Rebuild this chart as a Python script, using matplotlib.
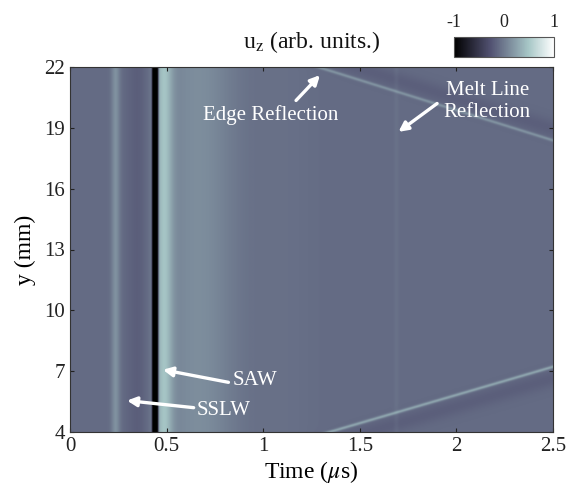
import numpy as np
import matplotlib
matplotlib.use("Agg")
import matplotlib.pyplot as plt

plt.rcParams["font.family"] = ["Liberation Serif", "DejaVu Serif"]
plt.rcParams["mathtext.fontset"] = "stix"
plt.rcParams["axes.unicode_minus"] = False

# ---- data -----------------------------------------------------------------
time_range = [0.0, 2.5]          # µs
y_range = [4.0, 22.0]            # mm
background_level = -0.1

# vertical wave fronts: name, arrival time (µs), half-width (µs), amplitude, sharpness
front_names = ["SSLW", "pre-SAW dip", "SAW", "SAW crest", "SAW tail", "late field", "Melt Line"]
front_times = [0.235, 0.35, 0.44, 0.485, 0.66, 1.10, 1.69]
front_widths = [0.022, 0.06, 0.016, 0.045, 0.20, 0.15, 0.012]
front_amps = [0.25, -0.10, -1.6, 0.48, 0.22, 0.03, 0.04]
front_powers = [2, 2, 4, 2, 2, 2, 2]

# oblique reflections: (t, y) end points, crest amplitude, shadow amplitude, shadow side
refl_names = ["Edge Reflection", "Bottom Reflection"]
refl_start = [(1.29, 22.0), (1.35, 4.0)]
refl_end = [(2.5, 18.4), (2.5, 7.2)]
refl_crest = [0.28, 0.40]
refl_shadow = [-0.08, -0.08]
refl_shadow_side = [1, -1]       # +1: above the line, -1: below

x_ticks = [0, 0.5, 1, 1.5, 2, 2.5]
x_tick_labels = ["0", "0.5", "1", "1.5", "2", "2.5"]
y_ticks = [4, 7, 10, 13, 16, 19, 22]

# ---- figure ---------------------------------------------------------------
W, H = 568, 495
fig = plt.figure(figsize=(W / 100, H / 100), dpi=100)
ax = fig.add_axes([70 / W, 1 - 432 / H, 483 / W, 365 / H])

nt, ny = 700, 500
t = np.linspace(*time_range, nt)
y = np.linspace(*y_range, ny)
T, Y = np.meshgrid(t, y)

field = np.full_like(T, background_level)
for tc, w, a, p in zip(front_times, front_widths, front_amps, front_powers):
    field += a * np.exp(-np.abs((T - tc) / w) ** p)

# distances for the oblique reflections measured in screen pixels
px_t = 483 / (time_range[1] - time_range[0])
px_y = 365 / (y_range[1] - y_range[0])
for (t0, y0), (t1, y1), ac, ash, side in zip(refl_start, refl_end, refl_crest,
                                             refl_shadow, refl_shadow_side):
    dx, dy = (t1 - t0) * px_t, (y1 - y0) * px_y
    L = np.hypot(dx, dy)
    # signed perpendicular distance, positive towards larger y
    d = ((T - t0) * px_t * (-dy) + (Y - y0) * px_y * dx) / L
    field += ac * np.exp(-(d / 1.5) ** 2)
    field += ash * np.exp(-((d - side * 11) / 9) ** 2)

field = np.clip(field, -1, 1)

im = ax.imshow(field, extent=[*time_range, *y_range], origin="lower",
               aspect="auto", cmap="bone", vmin=-1, vmax=1,
               interpolation="bilinear")

ax.set_xlim(*time_range)
ax.set_ylim(*y_range)
ax.set_xticks(x_ticks)
ax.set_xticklabels(x_tick_labels)
ax.set_yticks(y_ticks)
ax.tick_params(direction="in", length=3, width=0.8, labelsize=15,
               top=True, right=True, colors="#222222", labelcolor="#222222")
for s in ax.spines.values():
    s.set_linewidth(0.8)
    s.set_color("#333333")
ax.set_xlabel(r"Time ($\mu$s)", fontsize=17, labelpad=2)
ax.set_ylabel("y (mm)", fontsize=17, labelpad=6)

# annotations
white = "white"
arrow = dict(arrowstyle="-|>", color=white, lw=2.4, mutation_scale=14,
             shrinkA=0, shrinkB=0)
ax.annotate("", xy=(0.481, 7.07), xytext=(0.82, 6.45), arrowprops=arrow)
ax.text(0.84, 6.55, "SAW", color=white, fontsize=15, va="center", ha="left")
ax.annotate("", xy=(0.295, 5.55), xytext=(0.64, 5.2), arrowprops=arrow)
ax.text(0.655, 5.05, "SSLW", color=white, fontsize=15, va="center", ha="left")
ax.annotate("", xy=(1.294, 21.6), xytext=(1.17, 20.35), arrowprops=arrow)
ax.text(1.04, 19.65, "Edge Reflection", color=white, fontsize=15,
        va="center", ha="center")
ax.annotate("", xy=(1.70, 18.8), xytext=(1.90, 20.2), arrowprops=arrow)
ax.text(2.16, 20.3, "Melt Line\nReflection", color=white, fontsize=15,
        va="center", ha="center", linespacing=1.15)

# colour bar
cax = fig.add_axes([454 / W, 1 - 57 / H, 100 / W, 20 / H])
cb = fig.colorbar(im, cax=cax, orientation="horizontal", ticks=[-1, 0, 1])
cax.xaxis.set_ticks_position("top")
cax.tick_params(length=0, labelsize=13, pad=4, labelcolor="#222222")
cb.outline.set_linewidth(0.8)
cb.outline.set_edgecolor("#555555")

fig.text(312 / W, 1 - 48 / H, r"u$_{\mathrm{z}}$ (arb. units.)", fontsize=17,
         ha="center", va="baseline", color="#111111")

fig.savefig("out.png", dpi=100)
